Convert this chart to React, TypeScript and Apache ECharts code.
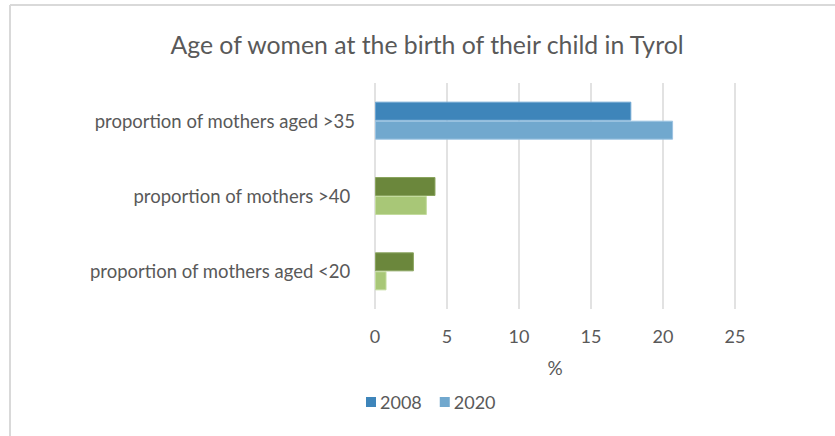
import React, { useEffect, useRef } from "react";
import * as echarts from "echarts";

const categories = [
  "proportion of mothers aged >35",
  "proportion of mothers >40 ",
  "proportion of mothers aged <20 ",
];
const years = ["2008", "2020"];
const values2008 = [17.8, 4.2, 2.7];
const values2020 = [20.7, 3.6, 0.8];
const xTicks = [0, 5, 10, 15, 20, 25];

const colors2008 = ["#3E85BA", "#6B873C", "#6B873C"];
const colors2020 = ["#71A8CE", "#A8C777", "#A8C777"];
const border2008 = ["#6FA6D2", "#8AA45E", "#8AA45E"];
const border2020 = ["#9CC3E2", "#C3DB9E", "#C3DB9E"];

const FONT = "Lato";
const TEXT = "#595959";

export default function App() {
  const ref = useRef<HTMLDivElement>(null);
  useEffect(() => {
    if (!ref.current) return;
    const chart = echarts.init(ref.current, undefined, { renderer: "svg" });
    chart.setOption({
      animation: false,
      backgroundColor: "#ffffff",
      textStyle: { fontFamily: FONT },
      title: {
        text: "Age of women at the birth of their child in Tyrol",
        left: 422,
        textAlign: "center",
        top: 27,
        textStyle: { fontFamily: FONT, fontSize: 24.8, fontWeight: "normal", color: TEXT },
      },
      graphic: [
        { type: "line", shape: { x1: 10, y1: 5, x2: 835, y2: 5 }, style: { stroke: "#D9D9D9", lineWidth: 2 } },
        { type: "line", shape: { x1: 10, y1: 5, x2: 10, y2: 436 }, style: { stroke: "#D9D9D9", lineWidth: 2 } },
      ],
      legend: {
        data: years,
        left: 361,
        top: 388,
        itemWidth: 10,
        itemHeight: 10,
        itemGap: 18,
        icon: "rect",
        textStyle: { fontFamily: FONT, fontSize: 18, color: TEXT, padding: [0, 0, 0, -1] },
      },
      grid: { left: 375, top: 83, width: 360, height: 226, containLabel: false },
      xAxis: {
        type: "value",
        min: 0,
        max: xTicks[xTicks.length - 1],
        interval: 5,
        name: "%",
        nameLocation: "middle",
        nameGap: 49,
        nameTextStyle: { fontFamily: FONT, fontSize: 19, color: TEXT },
        axisLine: { show: false },
        axisTick: { show: false },
        axisLabel: { fontFamily: FONT, fontSize: 18, color: TEXT, margin: 18 },
        splitLine: { show: true, lineStyle: { color: "#D9D9D9", width: 1.5 } },
      },
      yAxis: {
        type: "category",
        data: categories,
        inverse: true,
        axisLine: { show: false },
        axisTick: { show: false },
        axisLabel: { fontFamily: FONT, fontSize: 18.5, color: TEXT, margin: 20 },
      },
      series: [
        {
          name: years[0],
          type: "bar",
          barWidth: 19,
          barGap: "0%",
          itemStyle: { color: colors2008[0] },
          data: values2008.map((v, i) => ({
            value: v,
            itemStyle: { color: colors2008[i], borderColor: border2008[i], borderWidth: 1 },
          })),
        },
        {
          name: years[1],
          type: "bar",
          barWidth: 19,
          barGap: "0%",
          itemStyle: { color: colors2020[0] },
          data: values2020.map((v, i) => ({
            value: v,
            itemStyle: { color: colors2020[i], borderColor: border2020[i], borderWidth: 1 },
          })),
        },
      ],
    });
    return () => chart.dispose();
  }, []);
  return (
    <div
      ref={ref}
      style={{ position: "absolute", left: 0, top: 0, width: 835, height: 436 }}
    />
  );
}
